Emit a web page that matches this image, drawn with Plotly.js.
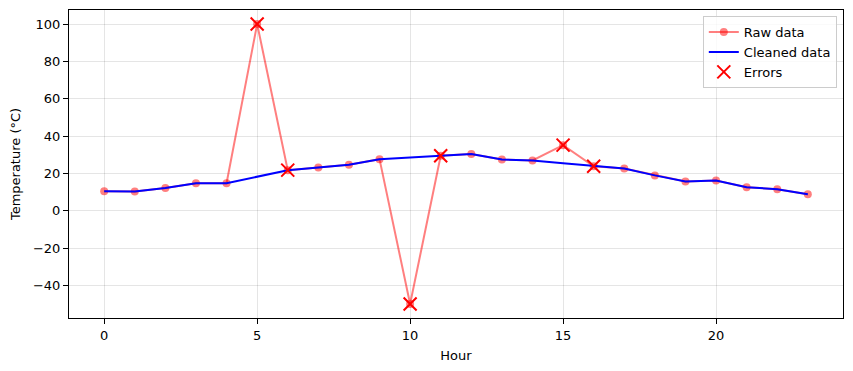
<!DOCTYPE html>
<html>
<head>
<meta charset="utf-8">
<script src="https://cdn.plot.ly/plotly-3.0.1.min.js"></script>
<style>html,body{margin:0;padding:0;background:#fff;}#chart{width:853px;height:371px;}</style>
</head>
<body>
<div id="chart"></div>
<script>
const hours = [0,1,2,3,4,5,6,7,8,9,10,11,12,13,14,15,16,17,18,19,20,21,22,23];
const rawTemp = [10.4,10.3,12.1,14.7,14.7,100,21.7,23.1,24.6,27.6,-50,29.4,30.3,27.4,26.9,35.1,23.8,22.6,18.9,15.6,16.2,12.6,11.5,8.8];
const cleanedTemp = [10.4,10.3,12.1,14.7,14.7,18.2,21.7,23.1,24.6,27.6,28.5,29.4,30.3,27.4,26.9,25.35,23.8,22.6,18.9,15.6,16.2,12.6,11.5,8.8];
const errorHours = [5,6,10,11,15,16];
const errorTemp = [100,21.7,-50,29.4,35.1,23.8];
const xTicks = [0,5,10,15,20];
const yTicks = [-40,-20,0,20,40,60,80,100];

const font = "DejaVu Sans, sans-serif";
const traces = [
  {x: hours, y: rawTemp, name: 'Raw data', mode: 'lines+markers', type: 'scatter',
   line: {color: 'rgba(255,0,0,0.5)', width: 2},
   marker: {color: 'rgba(255,0,0,0.5)', size: 8, symbol: 'circle'}},
  {x: hours, y: cleanedTemp, name: 'Cleaned data', mode: 'lines', type: 'scatter',
   line: {color: '#0000ff', width: 2}},
  {x: errorHours, y: errorTemp, name: 'Errors', mode: 'markers', type: 'scatter',
   marker: {color: '#ff0000', size: 13, symbol: 'x-thin-open', line: {color: '#ff0000', width: 2}}}
];
const axisCommon = {
  showline: true, mirror: true, linecolor: '#000', linewidth: 1,
  ticks: 'outside', ticklen: 5, tickcolor: '#000', tickwidth: 1,
  showgrid: true, gridcolor: 'rgba(0,0,0,0.1)', gridwidth: 1,
  zeroline: false, tickfont: {family: font, size: 13, color: '#000'}
};
const layout = {
  width: 853, height: 371,
  margin: {l: 69, r: 10, t: 10, b: 53},
  paper_bgcolor: '#fff', plot_bgcolor: '#fff',
  font: {family: font, color: '#000'},
  xaxis: Object.assign({}, axisCommon, {range: [-1.15, 24.15], tickvals: xTicks,
    title: {text: 'Hour', font: {family: font, size: 13}, standoff: 9}}),
  yaxis: Object.assign({}, axisCommon, {range: [-57.5, 107.5], tickvals: yTicks,
    title: {text: 'Temperature (°C)', font: {family: font, size: 13}, standoff: 9}}),
  legend: {x: 0.992, y: 0.98, xanchor: 'right', yanchor: 'top',
    bgcolor: 'rgba(255,255,255,0.8)', bordercolor: '#ccc', borderwidth: 1,
    font: {family: font, size: 13}, tracegroupgap: 0},
  showlegend: true
};
Plotly.newPlot('chart', traces, layout, {displayModeBar: false, staticPlot: true});
</script>
</body>
</html>
